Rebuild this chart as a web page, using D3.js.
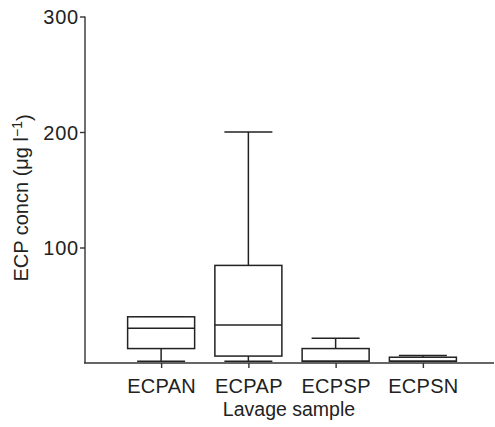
<!DOCTYPE html>
<html>
<head>
<meta charset="utf-8">
<script src="https://cdn.jsdelivr.net/npm/d3@7"></script>
<style>
  body { margin: 0; background: #fff; }
  text { font-family: "Liberation Sans", Arial, sans-serif; fill: #222; }
</style>
</head>
<body>
<svg class="box-chart"></svg>
<script>
// box plot values (ug/l)
var samples = ["ECPAN", "ECPAP", "ECPSP", "ECPSN"];
var minVals = [1.5, 1.5, 1.5, 1.5];
var q1Vals = [12.5, 6, 1.5, 1.5];
var medianVals = [30, 33, 1.5, 1.5];
var q3Vals = [40, 84.5, 12.5, 5];
var maxVals = [40, 200, 21.5, 6.5];
var yTicks = [100, 200, 300];

var data = samples.map(function(s, i) {
  return {name: s, min: minVals[i], q1: q1Vals[i], median: medianVals[i], q3: q3Vals[i], max: maxVals[i]};
});

var width = 495, height = 427;
var plotLeft = 85, plotTop = 16.5, plotBottom = 363;

var svg = d3.select(".box-chart")
  .attr("width", width)
  .attr("height", height);

var y = d3.scaleLinear().domain([0, 300]).range([plotBottom, plotTop]);
var x = d3.scalePoint().domain(samples).range([117.5, 466.5]).padding(0.5);

// y axis
var yAxis = d3.axisLeft(y).tickValues(yTicks).tickSize(5).tickPadding(1).tickFormat(d3.format("d"));
var gy = svg.append("g")
  .attr("transform", "translate(" + plotLeft + ",0)")
  .call(yAxis);
gy.select(".domain").attr("d", "M0," + plotBottom + "V" + plotTop).attr("stroke", "#333").attr("stroke-width", 1.4);
gy.selectAll(".tick line").attr("stroke", "#333").attr("stroke-width", 1.4);
gy.selectAll(".tick text").style("font-size", "20px").style("letter-spacing", "0.8px").attr("fill", "#222").attr("dy", "0.36em");

// x axis
var xAxis = d3.axisBottom(x).tickSize(5).tickPadding(11);
var gx = svg.append("g")
  .attr("transform", "translate(0," + plotBottom + ")")
  .call(xAxis);
gx.select(".domain").attr("d", "M" + (plotLeft - 1) + ",0H494").attr("stroke", "#333").attr("stroke-width", 1.4);
gx.selectAll(".tick line").attr("stroke", "#333").attr("stroke-width", 1.4);
gx.selectAll(".tick text").style("font-size", "20px").style("letter-spacing", "0.3px").attr("fill", "#222");

var boxW = 67, capW = 48;

var box = svg.selectAll(".box")
  .data(data)
  .enter().append("g")
  .attr("class", "box")
  .attr("transform", function(d) { return "translate(" + x(d.name) + ",0)"; })
  .attr("stroke", "#222")
  .attr("stroke-width", 1.5)
  .attr("fill", "none");

// whiskers
box.append("line")
  .attr("x1", 0).attr("x2", 0)
  .attr("y1", function(d) { return y(d.q3); })
  .attr("y2", function(d) { return y(d.max); });
box.append("line")
  .attr("x1", 0).attr("x2", 0)
  .attr("y1", function(d) { return y(d.q1); })
  .attr("y2", function(d) { return y(d.min); });
box.append("line")
  .attr("x1", -capW / 2).attr("x2", capW / 2)
  .attr("y1", function(d) { return y(d.max); })
  .attr("y2", function(d) { return y(d.max); });
box.append("line")
  .attr("x1", -capW / 2).attr("x2", capW / 2)
  .attr("y1", function(d) { return y(d.min); })
  .attr("y2", function(d) { return y(d.min); });

// box and median
box.append("rect")
  .attr("x", -boxW / 2)
  .attr("width", boxW)
  .attr("y", function(d) { return y(d.q3); })
  .attr("height", function(d) { return y(d.q1) - y(d.q3); })
  .attr("fill", "#fff");
box.append("line")
  .attr("x1", -boxW / 2).attr("x2", boxW / 2)
  .attr("y1", function(d) { return y(d.median); })
  .attr("y2", function(d) { return y(d.median); });

// axis titles
svg.append("text")
  .attr("x", 289)
  .attr("y", 416)
  .attr("text-anchor", "middle")
  .style("font-size", "19.5px")
  .text("Lavage sample");

var yl = svg.append("text")
  .attr("transform", "translate(28,198) rotate(-90)")
  .attr("text-anchor", "middle")
  .style("font-size", "20px");
yl.append("tspan").text("ECP concn (\u03bcg l");
yl.append("tspan").attr("dy", "-0.45em").style("font-size", "14px").text("\u22121");
yl.append("tspan").attr("dy", "0.45em").text(")");
</script>
</body>
</html>
